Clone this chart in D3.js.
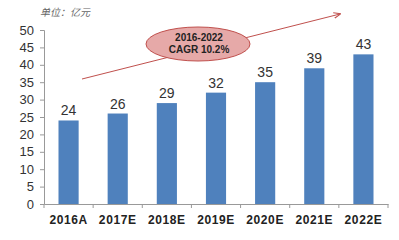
<!DOCTYPE html>
<html>
<head>
<meta charset="utf-8">
<script src="https://cdn.jsdelivr.net/npm/d3@7.9.0/dist/d3.min.js"></script>
<style>
  body { margin: 0; background: #fff; }
  svg { display: block; font-family: "Liberation Sans", Arial, sans-serif; }
</style>
</head>
<body>
<svg id="chart" width="399" height="240"></svg>
<script>
// data
const years = ["2016A", "2017E", "2018E", "2019E", "2020E", "2021E", "2022E"];
const values = [24, 26, 29, 32, 35, 39, 43];
const yTicks = [0, 5, 10, 15, 20, 25, 30, 35, 40, 45, 50];

const svg = d3.select("#chart");
const margin = { left: 44, right: 11, top: 30, bottom: 36 };
const W = 399, H = 240;

const x = d3.scaleBand().domain(years).range([margin.left, W - margin.right]).paddingInner(0.59).paddingOuter(0.295);
const y = d3.scaleLinear().domain([0, 50]).range([H - margin.bottom, margin.top]);

// unit label
svg.append("text")
  .attr("x", 40).attr("y", 16)
  .attr("font-size", 10).attr("fill", "#666")
  .attr("font-style", "italic")
  .attr("font-family", "'Noto Sans CJK SC', sans-serif")
  .text("单位：亿元");

// y axis
const yAxis = svg.append("g")
  .attr("transform", `translate(${margin.left},0)`)
  .call(d3.axisLeft(y).tickValues(yTicks).tickSize(4).tickPadding(6));
yAxis.select(".domain").attr("stroke", "#999");
yAxis.selectAll(".tick line").attr("stroke", "#999");
yAxis.selectAll("text").attr("font-size", 13).attr("fill", "#333");

// x axis
const xAxis = svg.append("g")
  .attr("transform", `translate(0,${H - margin.bottom})`)
  .call(d3.axisBottom(x).tickSize(0).tickPadding(11));
xAxis.select(".domain").attr("stroke", "#999");
xAxis.selectAll("text").attr("font-size", 12).attr("fill", "#222")
  .attr("font-weight", "bold").attr("letter-spacing", 0.6);
// category boundary ticks
const step = x.step();
const bounds = d3.range(years.length + 1).map(i => margin.left + i * step);
svg.append("g").selectAll("line").data(bounds).join("line")
  .attr("x1", d => d).attr("x2", d => d)
  .attr("y1", y(0)).attr("y2", y(0) + 4)
  .attr("stroke", "#999");

// bars
svg.append("g").selectAll("rect").data(values).join("rect")
  .attr("x", (d, i) => x(years[i]))
  .attr("y", d => y(d))
  .attr("width", x.bandwidth())
  .attr("height", d => y(0) - y(d))
  .attr("fill", "#4f81bd");

// value labels
svg.append("g").selectAll("text").data(values).join("text")
  .attr("x", (d, i) => x(years[i]) + x.bandwidth() / 2)
  .attr("y", d => y(d) - 5)
  .attr("text-anchor", "middle")
  .attr("font-size", 14).attr("fill", "#333")
  .text(d => d);

// arrow
svg.append("defs").append("marker")
  .attr("id", "arr").attr("viewBox", "0 0 10 10")
  .attr("refX", 9).attr("refY", 5)
  .attr("markerWidth", 7).attr("markerHeight", 7)
  .attr("orient", "auto")
  .append("path").attr("d", "M0,1 L10,5 L0,9").attr("fill", "none").attr("stroke", "#c0504d").attr("stroke-width", 1.5);

svg.append("line")
  .attr("x1", 82).attr("y1", 79).attr("x2", 340).attr("y2", 14)
  .attr("stroke", "#c0504d").attr("stroke-width", 1)
  .attr("marker-end", "url(#arr)");

// CAGR bubble
svg.append("ellipse")
  .attr("cx", 198).attr("cy", 44).attr("rx", 52).attr("ry", 17)
  .attr("fill", "#e6a9a8").attr("stroke", "#c0504d").attr("stroke-width", 1);
svg.append("text").attr("x", 199).attr("y", 41)
  .attr("text-anchor", "middle").attr("font-size", 10).attr("font-weight", "bold").attr("fill", "#222")
  .text("2016-2022");
svg.append("text").attr("x", 199).attr("y", 53)
  .attr("text-anchor", "middle").attr("font-size", 10).attr("font-weight", "bold").attr("fill", "#222")
  .text("CAGR 10.2%");
</script>
</body>
</html>
